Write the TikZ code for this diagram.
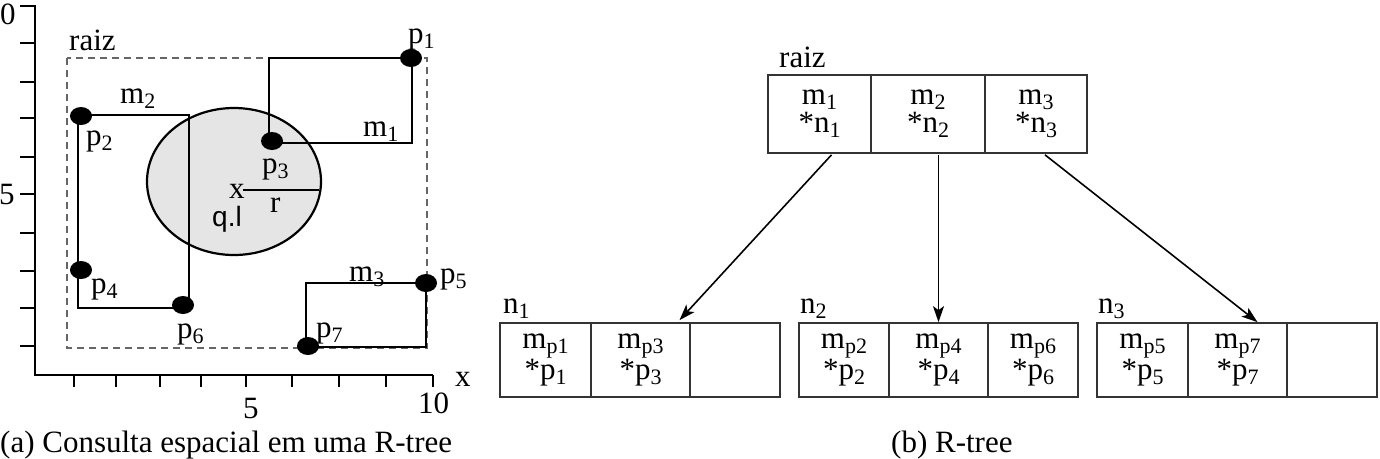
\documentclass[tikz,border=0pt]{standalone}
\usepackage{fontspec}
\setmainfont{Liberation Serif}
\setsansfont{Liberation Sans}
\usetikzlibrary{arrows.meta,calc,shapes.geometric}
\newcommand\sbs[1]{\raisebox{-5pt}{\fontsize{22}{22}\selectfont #1}}
\begin{document}
\begin{tikzpicture}[x=1pt,y=-1pt, font=\fontsize{31}{28}\selectfont,
 lbl/.style={anchor=base west, inner sep=0},
 dot/.style={ellipse, fill=black, minimum width=22pt, minimum height=18pt, inner sep=0},
 mbr/.style={line width=2.6pt},
 axis/.style={line width=2.2pt},
 cell/.style={draw=black!80, line width=1.7pt, minimum height=78pt, align=center, inner sep=0},
 leaf/.style={cell, minimum height=74pt},
 arr/.style={line width=1.6pt, -{Stealth[length=16pt,width=11pt,inset=4pt]}}]
\useasboundingbox (0,0) rectangle (1380,458);
% ---------- left panel ----------
\draw[axis] (35,5) -- (35,375) -- (433,375);
\foreach \y in {6,43,82,118,157,194,233,271,308,346} \draw[axis] (20,\y) -- (35,\y);
\foreach \x in {74,116,160,201,246,292,339,386,433} \draw[axis] (\x,375) -- (\x,387);
\node[lbl] (y0) at (0,24) {0};
\node[lbl] (y5) at (-1,204) {5};
\node[lbl] (x5) at (243,418) {5};
\node[lbl] (x10) at (418,413) {10};
\node[lbl] (xl) at (455,386) {x};
% query circle
\draw[fill=black!10, line width=2.2pt] (234,181.5) ellipse [x radius=87, y radius=73.5];
\draw[line width=1.5pt] (243,190) -- (319,190);
\node[lbl] (qx) at (229,198) {x};
\node[lbl] (qr) at (270,212) {r};
\node[lbl, font=\sffamily\fontsize{28}{28}\selectfont] (ql) at (212,226) {q.l};
% dashed root MBR
\draw[black!60, line width=1.7pt, dash pattern=on 7pt off 5pt] (67,58) rectangle (427,348);
\node[lbl] (raizA) at (69,50) {raiz};
% MBRs
\draw[mbr] (269,58) rectangle (412,143);
\draw[mbr] (78,115) rectangle (189,308);
\draw[line width=1.9pt] (306,283) rectangle (426,347);
% points
\node[dot] (p1) at (411,58) {};
\node[dot] (p2) at (81,116) {};
\node[dot] (p3) at (272,141) {};
\node[dot] (p4) at (81,270) {};
\node[dot] (p5) at (426,283) {};
\node[dot] (p6) at (183,305) {};
\node[dot] (p7) at (308,346) {};
% labels
\node[lbl] (lp1) at (408,43) {p\sbs{1}};
\node[lbl] (lm1) at (363,136) {m\sbs{1}};
\node[lbl] (lm2) at (120,103) {m\sbs{2}};
\node[lbl] (lp2) at (86,145) {p\sbs{2}};
\node[lbl] (lp3) at (262,173) {p\sbs{3}};
\node[lbl] (lp4) at (91,293) {p\sbs{4}};
\node[lbl] (lp6) at (177,338) {p\sbs{6}};
\node[lbl] (lm3) at (349,281) {m\sbs{3}};
\node[lbl] (lp5) at (440,283) {p\sbs{5}};
\node[lbl] (lp7) at (316,337) {p\sbs{7}};
\node[lbl] (capA) at (0,452) {(a) Consulta espacial em uma R-tree};
% ---------- right panel ----------
\node[lbl] (raizB) at (779,67) {raiz};
\node[cell, minimum width=103pt] (r1) at (819.5,114) {m\sbs{1}\\*n\sbs{1}};
\node[cell, minimum width=114pt] (r2) at (928,114) {m\sbs{2}\\*n\sbs{2}};
\node[cell, minimum width=102pt] (r3) at (1036,114) {m\sbs{3}\\*n\sbs{3}};
% leaf n1
\node[lbl] (n1) at (503,313) {n\sbs{1}};
\node[leaf, minimum width=91pt] (a1) at (545.5,360) {m\sbs{p1}\\*p\sbs{1}};
\node[leaf, minimum width=99pt] (a2) at (640.5,360) {m\sbs{p3}\\*p\sbs{3}};
\node[leaf, minimum width=90pt] (a3) at (735,360) {};
% leaf n2
\node[lbl] (n2) at (800,313) {n\sbs{2}};
\node[leaf, minimum width=90pt] (b1) at (844,360) {m\sbs{p2}\\*p\sbs{2}};
\node[leaf, minimum width=99pt] (b2) at (938.5,360) {m\sbs{p4}\\*p\sbs{4}};
\node[leaf, minimum width=90pt] (b3) at (1033,360) {m\sbs{p6}\\*p\sbs{6}};
% leaf n3
\node[lbl] (n3) at (1098,313) {n\sbs{3}};
\node[leaf, minimum width=91pt] (c1) at (1142.5,360) {m\sbs{p5}\\*p\sbs{5}};
\node[leaf, minimum width=99pt] (c2) at (1237.5,360) {m\sbs{p7}\\*p\sbs{7}};
\node[leaf, minimum width=90pt] (c3) at (1332,360) {};
% arrows
\draw[arr] ($(r1.south)+(12,1)$) -- ($(a2.north)+(39,-2)$);
\draw[arr] ($(b2.north |- r2.south)+(0,1)$) -- (b2.north);
\draw[arr] ($(r3.south)+(9,1)$) -- ($(c2.north)+(20,0)$);
\node[lbl] (capB) at (891,452) {(b) R-tree};
\end{tikzpicture}
\end{document}
